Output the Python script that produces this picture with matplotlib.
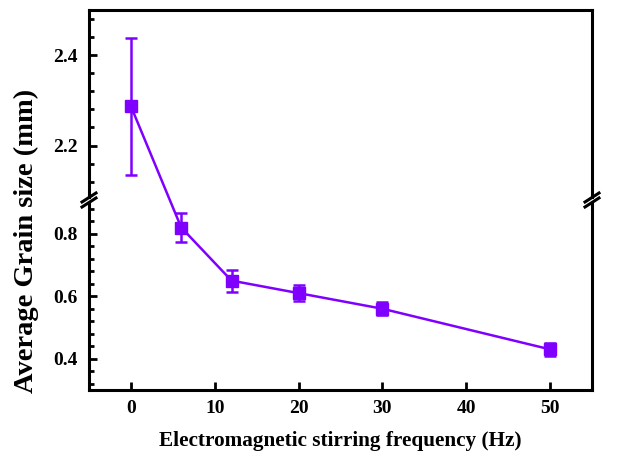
import numpy as np
import matplotlib.pyplot as plt
from matplotlib.patches import ConnectionPatch

freq = [0, 6, 12, 20, 30, 50]
grain = [2.287, 0.82, 0.65, 0.61, 0.56, 0.43]
err = [0.152, 0.045, 0.035, 0.025, 0.02, 0.02]

color = '#8000ff'
plt.rcParams['font.family'] = 'Liberation Serif'
plt.rcParams['font.weight'] = 'bold'
plt.rcParams['font.size'] = 14

fig = plt.figure(figsize=(6.38, 4.55), dpi=100)
W, H = 638, 455
left, right = 89 / W, 592 / W
bot, top = 1 - 390 / H, 1 - 10 / H
brk = 1 - 200 / H
gap = 5 / H

ax_hi = fig.add_axes([left, brk + gap / 2, right - left, top - brk - gap / 2])
ax_lo = fig.add_axes([left, bot, right - left, brk - gap / 2 - bot])

style = dict(color=color, marker='s', ms=8, lw=1.8, elinewidth=1.8,
             capsize=4, capthick=1.8)
# first point sits above the break, the rest below
ax_hi.errorbar(freq[:1], grain[:1], yerr=err[:1], **style)
ax_lo.errorbar(freq[1:], grain[1:], yerr=err[1:], **style)
con = ConnectionPatch(xyA=(freq[0], grain[0]), coordsA=ax_hi.transData,
                      xyB=(freq[1], grain[1]), coordsB=ax_lo.transData,
                      color=color, lw=1.8)
fig.add_artist(con)

for ax in (ax_hi, ax_lo):
    ax.set_xlim(-5, 55)
    for s in ax.spines.values():
        s.set_linewidth(2.2)
    ax.tick_params(axis='both', which='both', direction='in', width=2,
                   top=False, right=False)
    ax.tick_params(which='major', length=6)
    ax.tick_params(which='minor', length=3.5)
    ax.tick_params(axis='y', pad=8)

ax_hi.set_ylim(2.085, 2.5)
ax_hi.set_yticks([2.2, 2.4])
ax_hi.set_yticks(np.arange(2.12, 2.5, 0.04), minor=True)
ax_hi.spines['bottom'].set_visible(False)
ax_hi.tick_params(axis='x', which='both', bottom=False, labelbottom=False)

ax_lo.set_ylim(0.3, 0.9)
ax_lo.set_yticks([0.4, 0.6, 0.8])
ax_lo.set_yticks(np.arange(0.32, 0.9, 0.04), minor=True)
ax_lo.spines['top'].set_visible(False)
ax_lo.set_xticks([0, 10, 20, 30, 40, 50])
ax_lo.tick_params(axis='x', pad=7)
ax_lo.set_xlabel('Electromagnetic stirring frequency (Hz)', fontsize=15.3,
                 fontweight='bold', labelpad=10)

fig.text(26 / W, 1 - 241 / H, 'Average Grain size (mm)', rotation=90,
         ha='center', va='center', fontsize=20.5, fontweight='bold')

# break marks
dx, dy = 7 / W, 4.5 / H
for xc in (left, right):
    for yc in (brk + gap / 2, brk - gap / 2):
        fig.add_artist(plt.Line2D([xc - dx, xc + dx], [yc - dy, yc + dy],
                                  color='black', lw=2.2))

fig.savefig('out.png', dpi=100)
